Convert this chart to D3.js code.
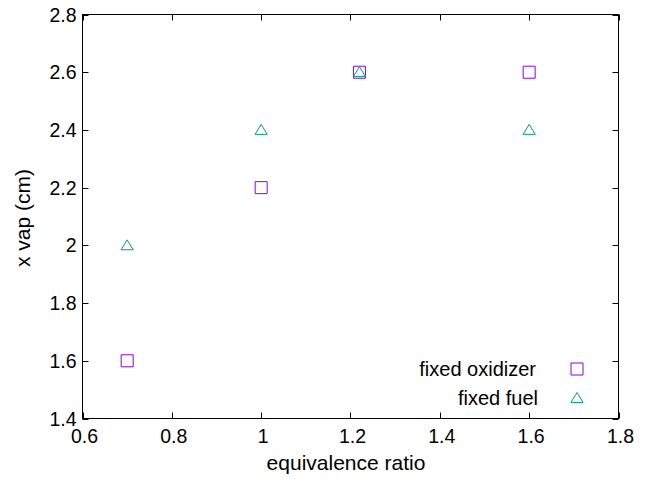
<!DOCTYPE html>
<html><head><meta charset="utf-8">
<script src="https://cdn.jsdelivr.net/npm/d3@7/dist/d3.min.js"></script>
<style>body{margin:0;background:#fff}svg{display:block}text{font-family:"Liberation Sans",Arial,sans-serif;fill:#000}</style>
</head><body>
<script>
const xTicks = [0.6, 0.8, 1.0, 1.2, 1.4, 1.6, 1.8];
const yTicks = [1.4, 1.6, 1.8, 2.0, 2.2, 2.4, 2.6, 2.8];
const oxX = [0.7, 1.0, 1.22, 1.6];
const oxY = [1.6, 2.2, 2.6, 2.6];
const fuelX = [0.7, 1.0, 1.22, 1.6];
const fuelY = [2.0, 2.4, 2.6, 2.4];
const seriesNames = ["fixed oxidizer", "fixed fuel"];

const W = 646, H = 479;
const m = {l: 82.5, r: 618.5, t: 14.5, b: 418.5};
const svg = d3.select("body").append("svg").attr("width", W).attr("height", H);
const x = d3.scaleLinear().domain([0.6, 1.8]).range([m.l, m.r]);
const y = d3.scaleLinear().domain([1.4, 2.8]).range([m.b, m.t]);
const fmt = d => (d === 1 || d === 2) ? String(d) : d3.format(".1f")(d);
const fsTick = 19.5, fsLeg = 20, fsTitle = 21;

// ticks inward on all 4 sides
const tl = 6;
const tk = svg.append("g").attr("stroke", "#000").attr("stroke-width", 1);
xTicks.forEach(v => {
  tk.append("line").attr("x1", Math.round(x(v))+0.5).attr("x2", Math.round(x(v))+0.5).attr("y1", m.b).attr("y2", m.b - tl);
  tk.append("line").attr("x1", Math.round(x(v))+0.5).attr("x2", Math.round(x(v))+0.5).attr("y1", m.t).attr("y2", m.t + tl);
});
yTicks.forEach(v => {
  tk.append("line").attr("y1", Math.round(y(v))+0.5).attr("y2", Math.round(y(v))+0.5).attr("x1", m.l).attr("x2", m.l + tl);
  tk.append("line").attr("y1", Math.round(y(v))+0.5).attr("y2", Math.round(y(v))+0.5).attr("x1", m.r).attr("x2", m.r - tl);
});
svg.append("rect").attr("x", m.l).attr("y", m.t).attr("width", m.r - m.l).attr("height", m.b - m.t)
  .attr("fill", "none").attr("stroke", "#000").attr("stroke-width", 1);

// tick labels
svg.append("g").selectAll("text").data(xTicks).join("text")
  .attr("x", d => x(d) + 2).attr("y", m.b + 24.5).attr("text-anchor", "middle")
  .attr("font-size", fsTick).text(fmt);
svg.append("g").selectAll("text").data(yTicks).join("text")
  .attr("x", m.l - 6).attr("y", d => y(d) + 7).attr("text-anchor", "end")
  .attr("font-size", fsTick).text(fmt);

// axis titles
svg.append("text").attr("x", 346).attr("y", 470).attr("text-anchor", "middle")
  .attr("font-size", fsTitle).text("equivalence ratio");
svg.append("text").attr("transform", `translate(30,218) rotate(-90)`)
  .attr("text-anchor", "middle").attr("font-size", fsTitle).text("x vap (cm)");

const purple = "#9400d3", green = "#009e73";
const sq = d3.symbol().type(d3.symbolSquare).size(144);
const tri = 5.5;
function triPath(cx, cy) {
  return `M${cx},${cy - tri}L${cx + tri * 1.1},${cy + tri * 0.8}L${cx - tri * 1.1},${cy + tri * 0.8}Z`;
}

const oxData = oxX.map((v, i) => [v, oxY[i]]);
const fuelData = fuelX.map((v, i) => [v, fuelY[i]]);

svg.append("g").selectAll("path").data(oxData).join("path")
  .attr("d", sq).attr("transform", d => `translate(${x(d[0])},${y(d[1])})`)
  .attr("fill", "none").attr("stroke", purple).attr("stroke-width", 1);
svg.append("g").selectAll("path").data(fuelData).join("path")
  .attr("d", d => triPath(x(d[0]), y(d[1])))
  .attr("fill", "none").attr("stroke", green).attr("stroke-width", 1);

// legend
const lg = svg.append("g");
lg.append("text").attr("x", 536).attr("y", 376).attr("text-anchor", "end").attr("font-size", fsLeg).text(seriesNames[0]);
lg.append("path").attr("d", sq).attr("transform", "translate(577,369)")
  .attr("fill", "none").attr("stroke", purple);
lg.append("text").attr("x", 538).attr("y", 405).attr("text-anchor", "end").attr("font-size", fsLeg).text(seriesNames[1]);
lg.append("path").attr("d", triPath(577, 398)).attr("fill", "none").attr("stroke", green);
</script>
</body></html>
